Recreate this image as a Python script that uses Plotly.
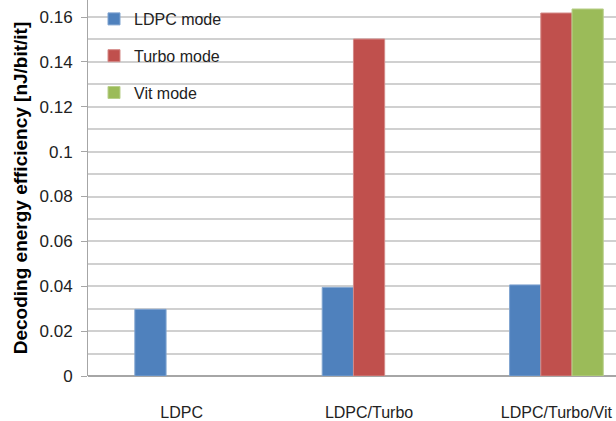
import plotly.graph_objects as go

# Decoder configurations and per-mode energy efficiency (nJ/bit/iteration)
categories = ["LDPC", "LDPC/Turbo", "LDPC/Turbo/Vit"]
ldpc_mode = [0.0297, 0.0395, 0.0406]
turbo_mode = [None, 0.1502, 0.1618]
vit_mode = [None, None, 0.1636]

series_names = ["LDPC mode", "Turbo mode", "Vit mode"]
series_colors = ["#4F81BD", "#C0504D", "#9BBB59"]
series_edges = ["#7FA3D0", "#D48A88", "#B9D08C"]

y_tick_vals = [0, 0.02, 0.04, 0.06, 0.08, 0.1, 0.12, 0.14, 0.16]
y_tick_text = ["0", "0.02", "0.04", "0.06", "0.08", "0.1", "0.12", "0.14", "0.16"]

FONT = "Liberation Sans"
TEXT = "#222222"

fig = go.Figure()
for name, vals, color, edge in zip(series_names, [ldpc_mode, turbo_mode, vit_mode],
                                   series_colors, series_edges):
    fig.add_trace(go.Bar(
        x=categories, y=vals, name=name, legendgroup=name,
        marker=dict(color=color, line=dict(color=edge, width=1)),
    ))

fig.update_layout(
    width=616, height=421,
    margin=dict(l=88, r=0, t=0, b=45),
    paper_bgcolor="white", plot_bgcolor="white",
    barmode="group", bargap=0.5, bargroupgap=0,
    font=dict(family=FONT, size=16, color=TEXT),
    showlegend=True,
    legend=dict(
        x=6 / 528, y=1 - 2 / 376, xanchor="left", yanchor="top",
        bgcolor="rgba(0,0,0,0)", borderwidth=0,
        font=dict(family=FONT, size=16, color=TEXT),
        tracegroupgap=13, itemclick=False,
    ),
    xaxis=dict(
        range=[-0.5, 2.318],
        showgrid=False, showline=False, zeroline=False,
        ticks="", ticklabelstandoff=25,
        tickfont=dict(family=FONT, size=16, color=TEXT),
    ),
    yaxis=dict(
        range=[0, 0.1676],
        tickmode="array", tickvals=y_tick_vals, ticktext=y_tick_text,
        ticks="outside", ticklen=6, tickcolor="#A6A6A6", tickwidth=1,
        ticklabelstandoff=5,
        showline=True, linecolor="#A6A6A6", linewidth=1,
        showgrid=True, gridcolor="#D0D0D0", gridwidth=1.5,
        minor=dict(dtick=0.01, tick0=0, showgrid=True, gridcolor="#D0D0D0",
                   gridwidth=1.5, ticks=""),
        zeroline=True, zerolinecolor="#A6A6A6", zerolinewidth=1.5,
        tickfont=dict(family=FONT, size=17, color=TEXT),
        title=dict(text="<b>Decoding energy efficiency [nJ/bit/it]</b>",
                   font=dict(family=FONT, size=19, color="#000000"),
                   standoff=6),
        automargin=False,
    ),
    shapes=[dict(
        type="rect", xref="paper", yref="paper", layer="below",
        x0=20 / 528, x1=144 / 528, y0=1 - 112 / 376, y1=1.0,
        fillcolor="white", line=dict(width=0),
    )],
)

fig.write_html("out.html")
